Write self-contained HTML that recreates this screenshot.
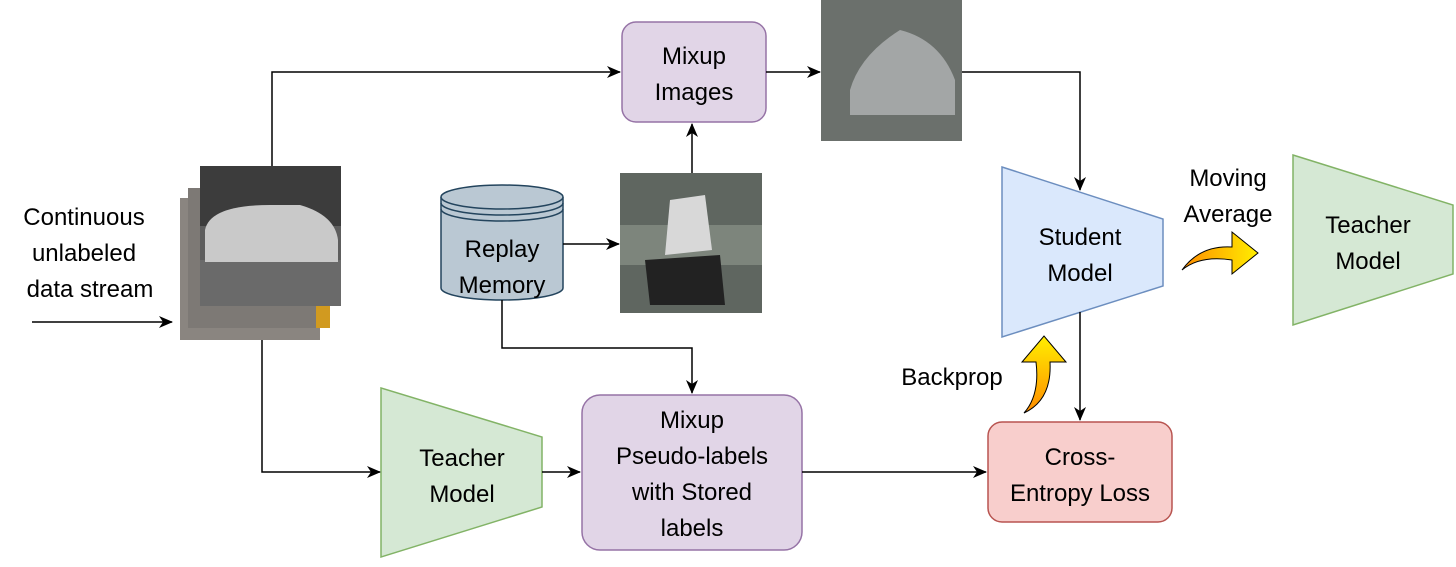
<!DOCTYPE html>
<html><head><meta charset="utf-8"><style>body{margin:0;background:#fff}svg{display:block}text{font-family:"Liberation Sans",Arial,sans-serif;font-size:24px;fill:#000}</style></head><body>
<svg width="1456" height="567" viewBox="0 0 1456 567" xmlns="http://www.w3.org/2000/svg">
<defs>
<marker id="a" markerWidth="14" markerHeight="12" refX="13" refY="6" orient="auto" markerUnits="userSpaceOnUse"><path d="M0,0 L14,6 L0,12 L4,6z" fill="#000"/></marker>
<linearGradient id="g1" x1="0" y1="1" x2="0" y2="0"><stop offset="0" stop-color="#ff8c00"/><stop offset="1" stop-color="#ffee00"/></linearGradient>
<linearGradient id="g2" x1="0" y1="0" x2="1" y2="0"><stop offset="0" stop-color="#ff8c00"/><stop offset="1" stop-color="#ffee00"/></linearGradient>
</defs>
<rect x="180" y="198" width="140" height="142" fill="#8a8580"/>
<rect x="188" y="188" width="142" height="140" fill="#d19a20"/>
<rect x="188" y="188" width="128" height="140" fill="#7d7975"/>
<rect x="200" y="166" width="141" height="140" fill="#5d5d5d"/>
<rect x="200" y="166" width="141" height="60" fill="#3c3c3c"/>
<rect x="200" y="260" width="141" height="46" fill="#6a6a6a"/>
<path d="M205,230 Q210,205 270,205 L300,205 Q335,215 338,240 L338,262 L205,262z" fill="#c9c9c9"/>
<rect x="821" y="0" width="141" height="141" fill="#6b706c"/>
<path d="M850,90 Q860,55 900,30 Q940,40 955,80 L955,115 L850,115z" fill="#a3a6a6"/>
<rect x="620" y="173" width="142" height="140" fill="#5f6660"/>
<rect x="620" y="225" width="142" height="40" fill="#7d857c"/>
<path d="M670,200 L705,195 L712,250 L665,255z" fill="#d8d8d8"/>
<path d="M645,260 L720,255 L725,305 L650,305z" fill="#222"/>
<rect x="622" y="22" width="144" height="100" rx="14" fill="#e1d5e7" stroke="#9673a6" stroke-width="1.5"/>
<text x="694" y="64" text-anchor="middle">Mixup</text><text x="694" y="100" text-anchor="middle">Images</text>
<rect x="582" y="395" width="220" height="155" rx="18" fill="#e1d5e7" stroke="#9673a6" stroke-width="1.5"/>
<text x="692" y="428" text-anchor="middle">Mixup</text><text x="692" y="464" text-anchor="middle">Pseudo-labels</text><text x="692" y="500" text-anchor="middle">with Stored</text><text x="692" y="536" text-anchor="middle">labels</text>
<rect x="988" y="422" width="184" height="100" rx="14" fill="#f8cecc" stroke="#b85450" stroke-width="1.5"/>
<text x="1080" y="465" text-anchor="middle">Cross-</text><text x="1080" y="501" text-anchor="middle">Entropy Loss</text>
<path d="M441,197 L441,288 A61,12 0 0 0 563,288 L563,197" fill="#bac8d3" stroke="#23445d" stroke-width="1.5"/>
<ellipse cx="502" cy="197" rx="61" ry="12" fill="#bac8d3" stroke="#23445d" stroke-width="1.5"/>
<path d="M441,203 A61,12 0 0 0 563,203 M441,209 A61,12 0 0 0 563,209" fill="none" stroke="#23445d" stroke-width="1.5"/>
<text x="502" y="257" text-anchor="middle">Replay</text><text x="502" y="293" text-anchor="middle">Memory</text>
<path d="M1002,167 L1163,219 L1163,286 L1002,337z" fill="#dae8fc" stroke="#6c8ebf" stroke-width="1.5"/>
<text x="1080" y="245" text-anchor="middle">Student</text><text x="1080" y="281" text-anchor="middle">Model</text>
<path d="M1293,155 L1453,205 L1453,274 L1293,325z" fill="#d5e8d4" stroke="#82b366" stroke-width="1.5"/>
<text x="1368" y="233" text-anchor="middle">Teacher</text><text x="1368" y="269" text-anchor="middle">Model</text>
<path d="M381,388 L542,437 L542,507 L381,557z" fill="#d5e8d4" stroke="#82b366" stroke-width="1.5"/>
<text x="462" y="466" text-anchor="middle">Teacher</text><text x="462" y="502" text-anchor="middle">Model</text>
<text x="84" y="225" text-anchor="middle">Continuous</text><text x="84" y="261" text-anchor="middle">unlabeled</text><text x="90" y="297" text-anchor="middle">data stream</text>
<text x="952" y="385" text-anchor="middle">Backprop</text>
<text x="1228" y="186" text-anchor="middle">Moving</text><text x="1228" y="222" text-anchor="middle">Average</text>
<g fill="none" stroke="#000" stroke-width="1.5" marker-end="url(#a)">
<path d="M32,322 L172,322"/>
<path d="M272,166 L272,72 L620,72"/>
<path d="M766,72 L820,72"/>
<path d="M962,72 L1080,72 L1080,190"/>
<path d="M692,173 L692,124"/>
<path d="M563,244 L619,244"/>
<path d="M502,300 L502,348 L692,348 L692,393"/>
<path d="M262,340 L262,472 L380,472"/>
<path d="M542,472 L580,472"/>
<path d="M802,472 L986,472"/>
<path d="M1080,312 L1080,420"/>
</g>
<path d="M1024,413 Q1040,395 1036,362 L1022,362 L1044,336 L1066,362 L1050,362 Q1052,400 1024,413z" fill="url(#g1)" stroke="#000" stroke-width="1"/>
<path d="M1182,270 Q1200,245 1232,247 L1232,232 L1258,253 L1232,274 L1232,260 Q1200,255 1182,270z" fill="url(#g2)" stroke="#000" stroke-width="1"/>
</svg>
</body></html>
